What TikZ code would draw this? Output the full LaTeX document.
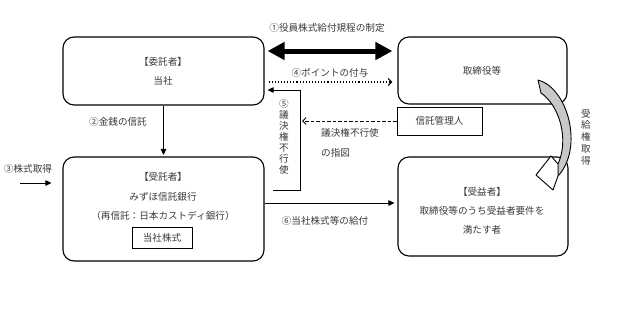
\documentclass[tikz,border=0pt]{standalone}
\usepackage{fontspec}
\setmainfont{Noto Sans CJK JP}
\usetikzlibrary{arrows.meta}
\definecolor{txt}{HTML}{3A3A3A}
\definecolor{bandgray}{HTML}{C8C8C8}
\begin{document}
\begin{tikzpicture}[x=1pt,y=-1pt,
  font=\fontsize{9.6}{11}\selectfont,
  rbox/.style={draw, line width=1.1pt, rounded corners=11pt, inner sep=0pt},
  sbox/.style={draw, line width=1pt, inner sep=0pt, text=txt},
  lbl/.style={inner sep=0pt, text=txt},
  vlbl/.style={inner sep=0pt, text=txt, align=center},
  conn/.style={line width=0.9pt, -{Triangle[length=6pt,width=5.5pt]}},
  thickarrow/.style={line width=5pt, {Triangle[length=17pt,width=17pt]}-{Triangle[length=17pt,width=17pt]}},
  dotarrow/.style={line width=1.1pt, dotted, -{Straight Barb[length=3.5pt,width=7pt]}},
  dasharrow/.style={line width=0.9pt, dash pattern=on 3.5pt off 2pt, -{Straight Barb[length=3.5pt,width=7pt]}}]
\useasboundingbox[fill=white] (0,0) rectangle (623,311);

% boxes
\node[rbox, minimum width=201pt, minimum height=68pt] (itaku) at (163.5,71) {};
\node[rbox, minimum width=169pt, minimum height=67pt] (tori) at (482.5,70.5) {};
\node[sbox, minimum width=85pt, minimum height=28pt] (kanri) at (439.5,121) {信託管理人};
\node[rbox, minimum width=201pt, minimum height=104pt] (jutaku) at (163.5,209) {};
\node[sbox, minimum width=60pt, minimum height=21pt] (kabu) at (162,237.5) {当社株式};
\node[rbox, minimum width=170pt, minimum height=99pt] (jueki) at (483,206.5) {};

% box texts
\node[lbl] (t1a) at (163,62) {【委託者】};
\node[lbl] (t1b) at (163,81) {当社};
\node[lbl] (t2) at (482,71) {取締役等};
\node[lbl] (t3a) at (163,177) {【受託者】};
\node[lbl] (t3b) at (163,197) {みずほ信託銀行};
\node[lbl] (t3c) at (163,216) {（再信託：日本カストディ銀行）};
\node[lbl] (t4a) at (482,192) {【受益者】};
\node[lbl] (t4b) at (482,211) {取締役等のうち受益者要件を};
\node[lbl] (t4c) at (482,230) {満たす者};

% labels
\node[lbl] (l1) at (327,28) {①役員株式給付規程の制定};
\node[lbl] (l4) at (330,73) {④ポイントの付与};
\node[lbl] (l2) at (118,122) {②金銭の信託};
\node[lbl] (l3) at (28,169) {③株式取得};
\node[lbl] (l6) at (325,221) {⑥当社株式等の給付};
\node[lbl, anchor=west] (l5a) at (321,133) {議決権不行使};
\node[lbl, anchor=west] (l5b) at (321,153) {の指図};
\node[vlbl, font=\fontsize{9.6}{10.9}\selectfont] (l5) at (284,137) {⑤\\議\\決\\権\\不\\行\\使};
\node[vlbl, font=\fontsize{9.6}{11.8}\selectfont] (lr) at (586,137) {受\\給\\権\\取\\得};

% connectors
\draw[thickarrow, shorten <=3pt, shorten >=5pt]
  ([yshift=20pt]itaku.east) -- ([yshift=20pt]itaku.east -| tori.west);
\draw[dotarrow, shorten <=4pt, shorten >=5pt]
  ([yshift=-11pt]itaku.east) -- ([yshift=-11pt]itaku.east -| tori.west);
\coordinate (v5a) at (273,190);
\coordinate (v5b) at (300,90);
\draw[conn] (v5a) -| (v5b) -- ([yshift=-19pt,xshift=3pt]itaku.east);
\draw[dasharrow, shorten >=2pt] (kanri.west) -- (kanri.west -| v5b);
\draw[conn, shorten >=1.5pt] (itaku.south) -- (jutaku.north);
\coordinate (s3) at (20,183);
\draw[conn, shorten >=11pt] (s3) -- (s3 -| jutaku.west);
\draw[conn, shorten >=3pt] ([yshift=6pt]jutaku.east) -- ([yshift=6pt]jutaku.east -| jueki.west);

% curved grant arrow
\draw[line width=0.9pt, fill=bandgray, line join=round]
  (538,80) .. controls (568,88) and (584,148) .. (558,176)
  -- (558,164) .. controls (569,140) and (560,106) .. (541,93) -- cycle;
\draw[line width=0.9pt, fill=white, line join=round]
  (551,156) -- (558,164) -- (558,176) -- (553,190) -- (536,175) -- cycle;
\end{tikzpicture}
\end{document}
